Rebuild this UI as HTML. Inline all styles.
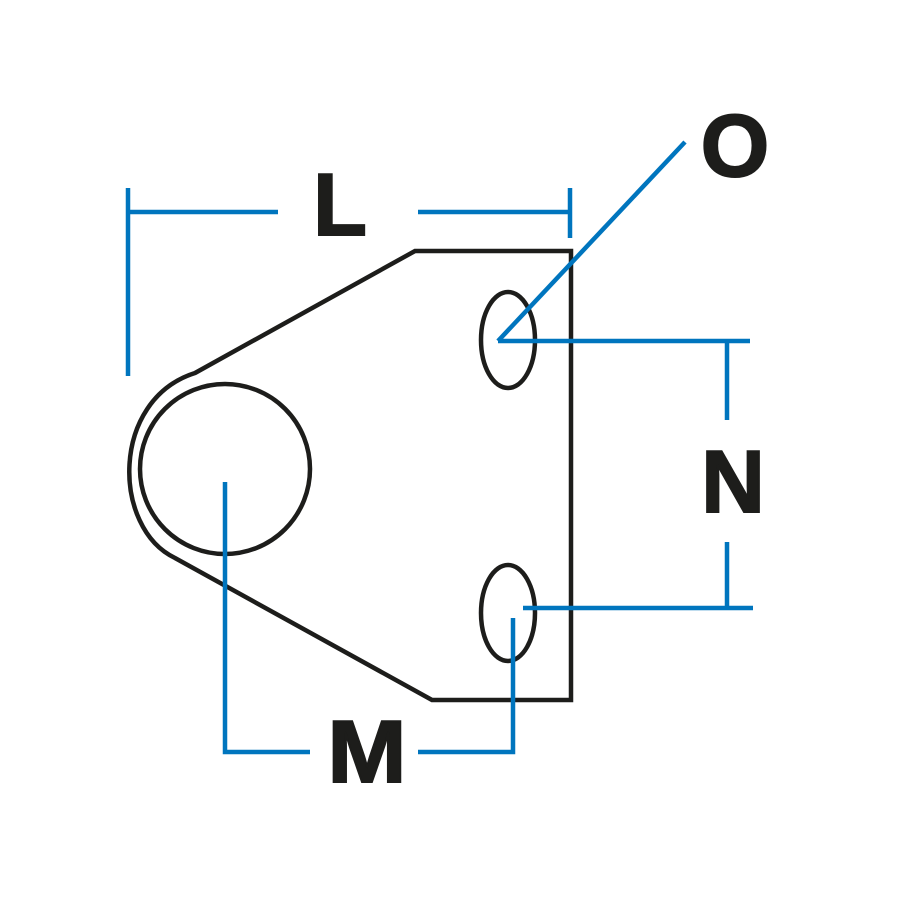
<!DOCTYPE html>
<html><head><style>html,body{margin:0;padding:0;background:#fff}</style></head>
<body>
<svg width="900" height="900" viewBox="0 0 900 900" xmlns="http://www.w3.org/2000/svg">
<rect width="900" height="900" fill="#fff"/>
<g fill="none" stroke="#1d1d1b" stroke-width="4.5">
<path d="M415,251 L571,251 L571,700 L432,700 L175,558 C112,528 110,400 195,373 Z"/>
<circle cx="225" cy="469" r="85"/>
<ellipse cx="508" cy="340" rx="27" ry="48"/>
<ellipse cx="508" cy="613" rx="27" ry="48"/>
</g>
<g fill="none" stroke="#0075be" stroke-width="4.5">
<path d="M128,188 V376"/>
<path d="M128,212 H278"/>
<path d="M418,212 H570"/>
<path d="M570,188 V238"/>
<path d="M498,341 L685,142"/>
<path d="M498,341 H750"/>
<path d="M727,341 V420"/>
<path d="M727,542 V608"/>
<path d="M523,608 H753"/>
<path d="M225,482 V752 H310"/>
<path d="M418,752 H513 V618"/>
</g>
<g font-family="Liberation Sans, sans-serif" font-weight="bold" font-size="88" fill="#1d1d1b" stroke="#1d1d1b" stroke-width="2" text-anchor="middle">
<text x="340" y="235">L</text>
<text x="735" y="176">O</text>
<text x="733" y="512">N</text>
<text x="367" y="782" transform="translate(367,0) scale(1.08,1) translate(-367,0)">M</text>
</g>
</svg>
</body></html>
